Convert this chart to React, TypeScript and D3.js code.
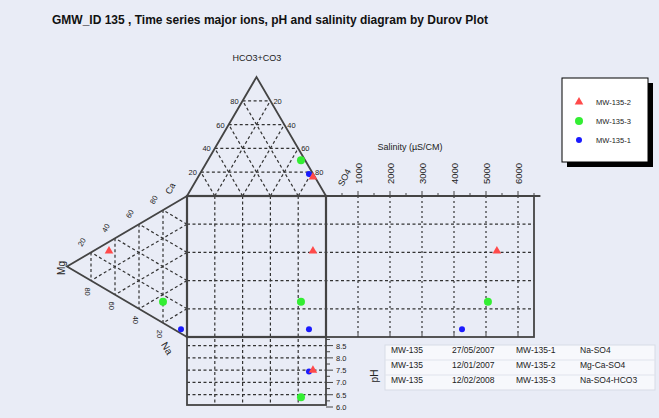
import React from "react";
import * as d3 from "d3";

const title = "GMW_ID 135 , Time series major ions, pH and salinity diagram by Durov Plot";
const samples = ["MW-135-2", "MW-135-3", "MW-135-1"];
const caPct = [28.5, 15, 3];
const mgPct = [65, 20, 5];
const naPct = [6.5, 65, 92];
const hco3Pct = [16, 30, 18.5];
const clPct = [1.4, 3, 3];
const so4Pct = [82.6, 67, 78.5];
const salinity = [5340, 5060, 4250];
const phValues = [7.5, 6.4, 7.45];
const gridPct = [20, 40, 60, 80];
const salTicks = [1000, 2000, 3000, 4000, 5000, 6000];
const phTicks = [6.0, 6.5, 7.0, 7.5, 8.0, 8.5];
const tableSite = ["MW-135", "MW-135", "MW-135"];
const tableDate = ["27/05/2007", "12/01/2007", "12/02/2008"];
const tableSample = ["MW-135-1", "MW-135-2", "MW-135-3"];
const tableType = ["Na-SO4", "Mg-Ca-SO4", "Na-SO4-HCO3"];

const COLORS: Record<string, string> = { "MW-135-2": "#ff4a4a", "MW-135-3": "#33ee33", "MW-135-1": "#1a1aff" };
const drawOrder = [1, 2, 0];

const W = 659, H = 418;
const SX0 = 187, SX1 = 326, SY0 = 196, SY1 = 337;
const font = "Liberation Sans, Arial, sans-serif";
const DARK = "#444";

export default function App() {
  const xSq = d3.scaleLinear().domain([0, 100]).range([SX0, SX1]);
  const ySq = d3.scaleLinear().domain([0, 100]).range([SY0, SY1]);
  const hTop = d3.scaleLinear().domain([0, 100]).range([SY0, 77]);
  const xLeft = d3.scaleLinear().domain([0, 100]).range([SX0, 67]);
  const xSal = d3.scaleLinear().domain([0, 6500]).range([SX1, 534]);
  const yPh = d3.scaleLinear().domain([6, 8.85]).range([407, SY1]);
  const PH_BOTTOM = 405;

  const topPt = (so4: number, hco3: number): [number, number] => [xSq(so4 + hco3 / 2), hTop(hco3)];
  const leftPt = (na: number, mg: number): [number, number] => [xLeft(mg), ySq(na + mg / 2)];

  const line = d3.line();
  const dash = "3,2.5";

  const topGrid: [number, number][][] = [];
  const leftGrid: [number, number][][] = [];
  gridPct.forEach((k) => {
    topGrid.push([topPt(0, k), topPt(100 - k, k)]);
    topGrid.push([topPt(k, 0), topPt(k, 100 - k)]);
    topGrid.push([topPt(100 - k, 0), topPt(0, 100 - k)]);
    leftGrid.push([leftPt(0, k), leftPt(100 - k, k)]);
    leftGrid.push([leftPt(k, 0), leftPt(k, 100 - k)]);
    leftGrid.push([leftPt(100 - k, 0), leftPt(0, 100 - k)]);
  });

  const marker = (i: number, x: number, y: number, key: string) => {
    const s = samples[i];
    const c = COLORS[s];
    if (s === "MW-135-2") {
      const tri = d3.symbol(d3.symbolTriangle, 32)();
      return <path key={key} d={tri as string} transform={`translate(${x},${y})`} fill={c} />;
    }
    const r = s === "MW-135-3" ? 4 : 3;
    return <circle key={key} cx={x} cy={y} r={r} fill={c} />;
  };

  const pts = samples.map((_, i) => {
    const tp = topPt(so4Pct[i], hco3Pct[i]);
    const lp = leftPt(naPct[i], mgPct[i]);
    return { tp, lp, sq: [tp[0], lp[1]], sal: [xSal(salinity[i]), lp[1]], ph: [tp[0], yPh(phValues[i])] };
  });

  const sqVerts = gridPct.map((k) => xSq(k));
  const sqHoriz = gridPct.map((k) => ySq(k));

  const tableX = [391, 452, 516, 580];
  const rowY = [353, 368, 383];

  return (
    <svg width={W} height={H} style={{ position: "absolute", left: 0, top: 0 }} fontFamily={font}>
      <rect x={0} y={0} width={W} height={H} fill="#e9ecf6" />
      <text x={270} y={24} textAnchor="middle" fontSize={12.5} fontWeight="bold" fill="#111" textLength={436} lengthAdjust="spacingAndGlyphs">
        {title}
      </text>

      {topGrid.map((seg, i) => (
        <path key={"tg" + i} d={line(seg) as string} stroke="#333" strokeWidth={1.2} strokeDasharray={dash} fill="none" />
      ))}
      {leftGrid.map((seg, i) => (
        <path key={"lg" + i} d={line(seg) as string} stroke="#333" strokeWidth={1.2} strokeDasharray={dash} fill="none" />
      ))}
      {sqVerts.map((x, i) => (
        <line key={"sv" + i} x1={x} x2={x} y1={SY0} y2={PH_BOTTOM} stroke="#333" strokeWidth={1.2} strokeDasharray={dash} />
      ))}
      {sqHoriz.map((y, i) => (
        <line key={"sh" + i} x1={SX0} x2={xSal(6500)} y1={y} y2={y} stroke="#333" strokeWidth={1.2} strokeDasharray={dash} />
      ))}
      {salTicks.map((v) => (
        <line key={"salv" + v} x1={xSal(v)} x2={xSal(v)} y1={SY0} y2={SY1} stroke="#333" strokeWidth={1.2} strokeDasharray="2,3" />
      ))}
      {phTicks.filter((v) => v > 6).map((v) => (
        <line key={"phh" + v} x1={SX0} x2={SX1} y1={yPh(v)} y2={yPh(v)} stroke="#333" strokeWidth={1.2} strokeDasharray={dash} />
      ))}

      <path d={line([topPt(0, 0), topPt(0, 100), topPt(100, 0)]) as string} fill="none" stroke={DARK} strokeWidth={1.8} />
      <path d={line([leftPt(0, 0), leftPt(0, 100), leftPt(100, 0)]) as string} fill="none" stroke={DARK} strokeWidth={1.8} />
      <rect x={SX0} y={SY0} width={SX1 - SX0} height={SY1 - SY0} fill="none" stroke={DARK} strokeWidth={2.2} />
      <rect x={SX1} y={SY0} width={xSal(6500) - SX1} height={SY1 - SY0} fill="none" stroke={DARK} strokeWidth={1.8} />
      <line x1={SX1} x2={xSal(6700)} y1={SY0} y2={SY0} stroke={DARK} strokeWidth={2.2} />
      <rect x={SX0} y={SY1} width={SX1 - SX0} height={PH_BOTTOM - SY1} fill="none" stroke={DARK} strokeWidth={1.8} />

      {d3.range(500, 6501, 500).map((v) => (
        <line key={"st" + v} x1={xSal(v)} x2={xSal(v)} y1={SY0} y2={SY0 - (v % 1000 === 0 ? 5 : 3)} stroke={DARK} strokeWidth={1} />
      ))}
      {salTicks.map((v) => (
        <line key={"sb" + v} x1={xSal(v)} x2={xSal(v)} y1={SY1} y2={SY1 - 4} stroke={DARK} strokeWidth={1} />
      ))}
      {salTicks.map((v) => (
        <text key={"sl" + v} transform={`translate(${xSal(v) + 3.5},${SY0 - 12}) rotate(-90)`} fontSize={9.5} fill="#222">
          {v}
        </text>
      ))}
      <text x={410} y={150} textAnchor="middle" fontSize={9} fill="#222">Salinity (µS/CM)</text>

      {d3.range(6, 8.76, 0.25).map((v) => (
        <line key={"pt" + v} x1={SX1} x2={SX1 + (Math.abs((v * 2) % 1) < 0.01 ? 7 : 4)} y1={yPh(v)} y2={yPh(v)} stroke={DARK} strokeWidth={1} />
      ))}
      {phTicks.map((v) => (
        <text key={"pl" + v} x={336} y={yPh(v) + 3} fontSize={7.5} fill="#222">{v.toFixed(1)}</text>
      ))}
      <text transform="translate(378,376) rotate(-90)" textAnchor="middle" fontSize={10} fill="#222">pH</text>

      {gridPct.map((k) => {
        const [x, y] = topPt(0, k);
        return <text key={"tl" + k} x={x - 4} y={y + 3} textAnchor="end" fontSize={7.5} fill="#222">{k}</text>;
      })}
      {gridPct.map((k) => {
        const [x, y] = topPt(100 - k, k);
        return <text key={"tr" + k} x={x + 3} y={y + 3} fontSize={7.5} fill="#222">{100 - k}</text>;
      })}
      <text x={257} y={61} textAnchor="middle" fontSize={9} fill="#222">HCO3+CO3</text>
      <text transform="translate(343,187) rotate(-62)" fontSize={9} fill="#222">SO4</text>

      {gridPct.map((k) => {
        const [x, y] = leftPt(0, k);
        return (
          <text key={"lu" + k} transform={`translate(${x - 7},${y - 9}) rotate(-60)`} textAnchor="middle" fontSize={7.5} fill="#222">
            {100 - k}
          </text>
        );
      })}
      <text transform="translate(173,190) rotate(-60)" textAnchor="middle" fontSize={9} fill="#222">Ca</text>
      {gridPct.map((k) => {
        const [x, y] = leftPt(100 - k, k);
        return (
          <text key={"ll" + k} transform={`translate(${x - 6},${y + 11}) rotate(90)`} textAnchor="middle" fontSize={7.5} fill="#222">
            {k}
          </text>
        );
      })}
      <text transform="translate(65,268) rotate(-90)" textAnchor="middle" fontSize={10} fill="#222">Mg</text>
      <text transform="translate(164,350) rotate(60)" textAnchor="middle" fontSize={10} fill="#222">Na</text>

      {drawOrder.map((i) => {
        const p = pts[i];
        return (
          <g key={"m" + i}>
            {marker(i, p.tp[0], p.tp[1], "t")}
            {marker(i, p.lp[0], p.lp[1], "l")}
            {marker(i, p.sq[0], p.sq[1], "s")}
            {marker(i, p.sal[0], p.sal[1], "a")}
            {marker(i, p.ph[0], p.ph[1], "p")}
          </g>
        );
      })}

      <rect x={567} y={83} width={86} height={84} fill="#000" />
      <rect x={562} y={78} width={86} height={84} fill="#fff" stroke="#000" strokeWidth={1} />
      {samples.map((s, i) => {
        const y = 102 + i * 19;
        return (
          <g key={"lg" + s}>
            {marker(i, 579, y, "lm")}
            <text x={596} y={y + 3} fontSize={7.5} fill="#222">{s}</text>
          </g>
        );
      })}

      <rect x={385} y={345} width={270} height={45} fill="#f7f8fc" stroke="#d8dbe6" />
      {[360, 375].map((y) => (
        <line key={"tr" + y} x1={385} x2={655} y1={y} y2={y} stroke="#e0e3ec" />
      ))}
      {tableSite.map((_, r) => (
        <g key={"row" + r} fontSize={8.5} fill="#222">
          <text x={tableX[0]} y={rowY[r]}>{tableSite[r]}</text>
          <text x={tableX[1]} y={rowY[r]}>{tableDate[r]}</text>
          <text x={tableX[2]} y={rowY[r]}>{tableSample[r]}</text>
          <text x={tableX[3]} y={rowY[r]}>{tableType[r]}</text>
        </g>
      ))}
    </svg>
  );
}
